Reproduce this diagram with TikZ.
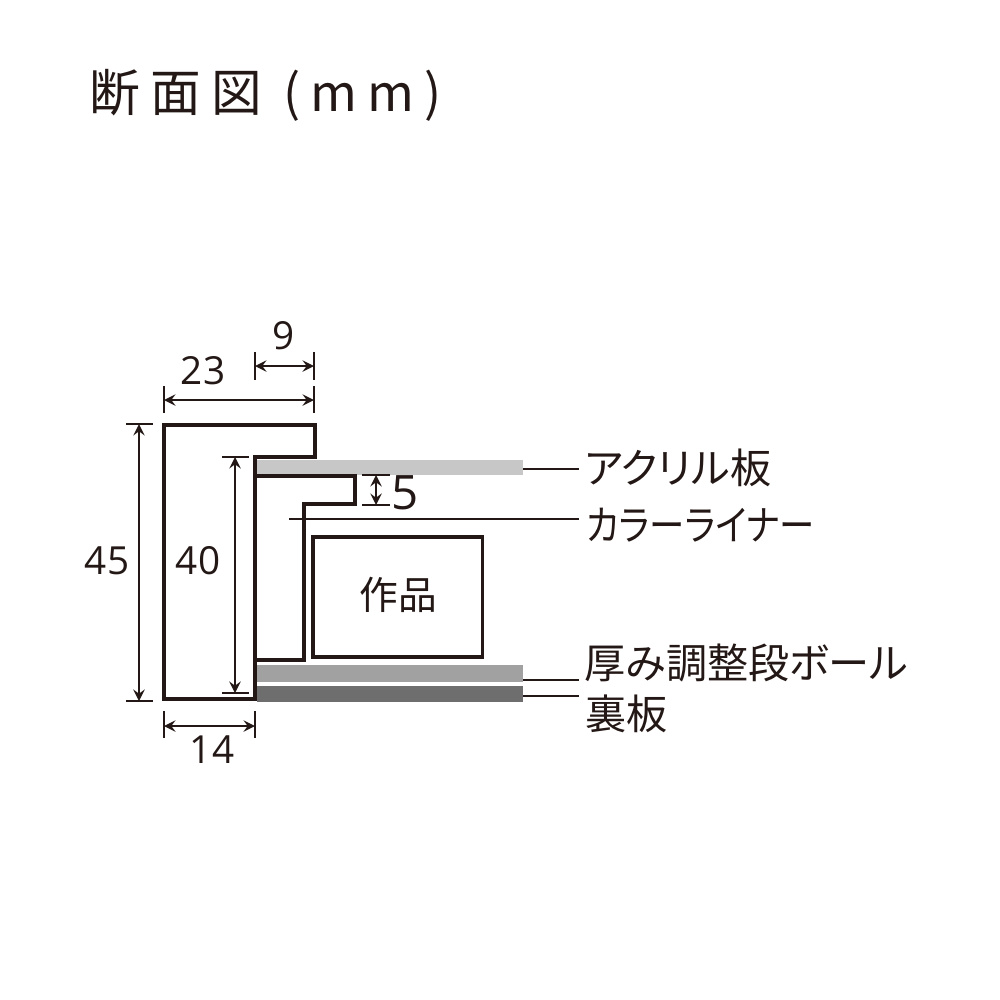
\documentclass[tikz,border=0pt]{standalone}
\usepackage{fontspec}
\usepackage{graphicx}
\usepackage{tikz}
\usetikzlibrary{arrows}
\newfontfamily\jpfont[RawFeature=+palt]{Noto Sans CJK JP}
\newfontfamily\titlefont[LetterSpace=20]{Noto Sans CJK JP}
\newfontfamily\numfont{Open Sans}
\definecolor{inkblack}{HTML}{231815}
\tikzset{profile/.style={draw=inkblack,line width=1.1pt,line join=miter}}
\tikzset{dimline/.style={draw=inkblack,line width=0.45pt,stealth-stealth}}
\tikzset{tick/.style={draw=inkblack,line width=0.45pt}}
\tikzset{leader/.style={draw=inkblack,line width=0.55pt}}
\tikzset{num/.style={text=inkblack,font=\numfont\fontsize{11}{12}\selectfont,inner sep=0pt}}
\tikzset{lbl/.style={text=inkblack,font=\jpfont\fontsize{11.7}{12}\selectfont,inner sep=0pt,anchor=west}}
\tikzset{bar/.style={minimum width=2.66cm,inner sep=0pt,outer sep=0pt}}

\begin{document}
\begin{tikzpicture}[x=0.01cm,y=-0.01cm]
\useasboundingbox (0,0) rectangle (1000,1000);

\node[text=inkblack,font=\titlefont\fontsize{14.4}{16}\selectfont,inner sep=0pt,anchor=west] (title) at (89,95) {断面図 (mm)};

% boards
\node[bar,fill=black!22,minimum height=0.15cm] (acrylic) at (390,467.5) {};
\node[bar,fill=black!37,minimum height=0.17cm] (board) at (390,673.5) {};
\node[bar,fill=black!57,minimum height=0.16cm] (back) at (390,694) {};

% frame, liner, work
\draw[profile] (164,425) -- (315,425) -- (315,457) -- (255,457) -- (255,699) -- (164,699) -- cycle;
\draw[profile] (255,476) -- (355,476) -- (355,504) -- (304,504) -- (304,660) -- (255,660);
\draw[profile] (313,537) rectangle (482.5,657);
\node[lbl,anchor=center,font=\jpfont\fontsize{11}{12}\selectfont] (work) at (398,595) {作品};

% dimensions
\foreach \n / \xa / \xb / \y / \ya / \yb in {nine/255/314/366/352/380,tw/164/314/400/386/413,ft/164/255/726/711/738}
{
	\coordinate (\n L) at (\xa,\y);
	\coordinate (\n R) at (\xb,\y);
	\draw[dimline] (\n L) -- (\n R);
	\coordinate (\n La) at (\xa,\ya);
	\coordinate (\n Lb) at (\xa,\yb);
	\coordinate (\n Ra) at (\xb,\ya);
	\coordinate (\n Rb) at (\xb,\yb);
	\draw[tick] (\n La) -- (\n Lb);
	\draw[tick] (\n Ra) -- (\n Rb);
}
\foreach \n / \x / \ya / \yb / \xa / \xb in {ff/139/424/701/126/153,fo/235/457/693/222/249,five/376/475/505/362/390}
{
	\coordinate (\n T) at (\x,\ya);
	\coordinate (\n B) at (\x,\yb);
	\draw[dimline] (\n T) -- (\n B);
	\coordinate (\n Ta) at (\xa,\ya);
	\coordinate (\n Tb) at (\xb,\ya);
	\coordinate (\n Ba) at (\xa,\yb);
	\coordinate (\n Bb) at (\xb,\yb);
	\draw[tick] (\n Ta) -- (\n Tb);
	\draw[tick] (\n Ba) -- (\n Bb);
}
\node[num] (n9) at (284,336) {9};
\node[num] (n23) at (203,371) {23};
\node[num] (n45) at (107,561) {45};
\node[num] (n40) at (198,561) {40};
\node[num,font=\numfont\fontsize{13.5}{14}\selectfont] (n5) at (405,493) {5};
\node[num] (n14) at (212,750) {14};

% labels
\node[lbl] (lacrylic) at (584,468) {アクリル板};
\node[lbl] (lliner) at (586,525) {\scalebox{0.86}[1]{カラーライナー}};
\node[lbl] (lboard) at (584,663) {厚み調整段ボール};
\node[lbl] (lback) at (585,714) {裏板};

\foreach \n / \xa / \y in {acrylic/523/469,liner/289/519,board/523/680,back/523/696}
{
	\coordinate (\n A) at (\xa,\y);
	\coordinate (\n B) at (579,\y);
	\draw[leader] (\n A) -- (\n B);
}
\end{tikzpicture}
\end{document}
